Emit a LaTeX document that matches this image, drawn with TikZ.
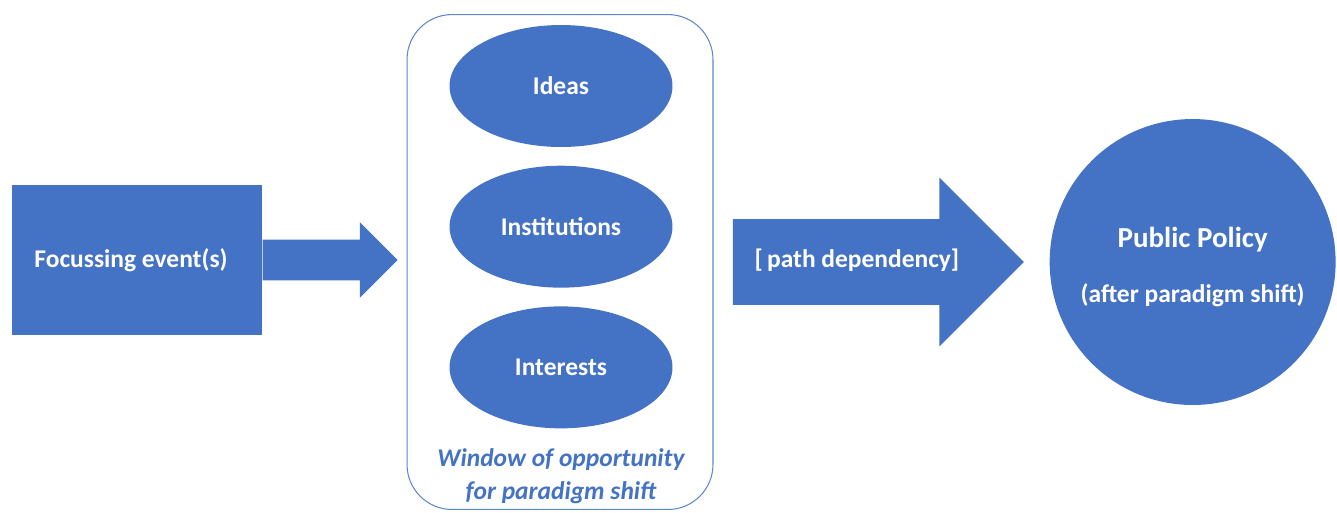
\documentclass[tikz,border=0pt]{standalone}
\usepackage{fontspec}
\setmainfont{Carlito}
\usetikzlibrary{shapes.geometric,shapes.arrows,positioning}
\definecolor{officeblue}{HTML}{4472C4}
\begin{document}
\begin{tikzpicture}[
            x=0.02cm, y=-0.02cm,
            every node/.style = {font=\fontsize{14.5}{17}\selectfont\bfseries, text=white},
            block/.style = {rectangle, fill=officeblue, minimum width=5cm, minimum height=3cm},
            factor/.style = {ellipse, fill=officeblue, minimum width=4.46cm, minimum height=2.44cm, inner sep=0pt},
            window/.style = {rectangle, rounded corners=0.9cm, draw=officeblue!85, line width=0.6pt, minimum width=6.12cm, minimum height=9.9cm},
            bigarrow/.style = {single arrow, fill=officeblue, inner xsep=0pt, anchor=tail}
        ]
        \useasboundingbox (0,0) rectangle (1337,512);

        \node[window] (window) at (560,262) {};
        \node[factor] (ideas) at (561,86) {Ideas};
        \node[factor, below=0.36cm of ideas] (institutions) {Institutions};
        \node[factor, below=0.36cm of institutions] (interests) {Interests};
        \node[below=0.27cm of interests, align=center, text=officeblue, font=\fontsize{14.5}{18.7}\selectfont\bfseries\itshape] (caption) {Window of opportunity\\for paradigm shift};

        \node[block] (focus) at (137,260) {Focussing event(s)\hspace*{0.24cm}};
        \node[bigarrow, minimum height=2.7cm, text height=0pt, text depth=0pt, inner ysep=0.4cm, single arrow head extend=0.35cm] (trigger) at (focus.east) {};

        \node[bigarrow, right=0.38cm of window, minimum height=5.82cm, text height=0.3cm, text depth=0.1cm, inner ysep=0.65cm, single arrow head extend=0.83cm] (pathdep) {[\,path dependency]};

        \node[circle, fill=officeblue, minimum size=5.72cm, inner sep=0pt, right=0.5cm of pathdep, align=center] (policy) {{\fontsize{16.5}{19}\selectfont\rule{0pt}{0.62cm}Public Policy}\\[0.5cm](after paradigm shift)};
    \end{tikzpicture}
\end{document}
